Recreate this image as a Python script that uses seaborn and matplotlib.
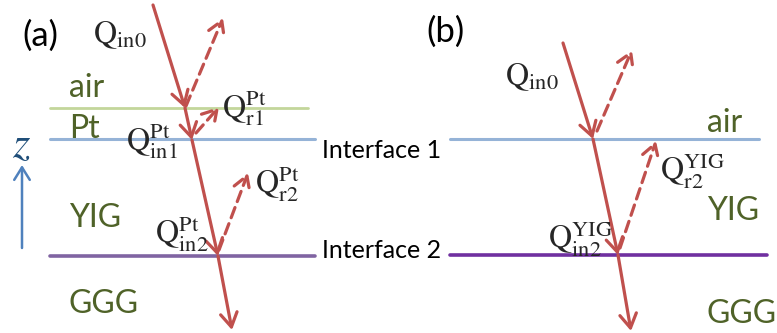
import matplotlib
matplotlib.use("Agg")
import matplotlib.pyplot as plt
import seaborn as sns
import pandas as pd

sns.set_theme(style="white")
plt.rcParams["font.family"] = ["Lato", "DejaVu Sans"]
plt.rcParams["mathtext.fontset"] = "stix"

# Layer stacks of the two samples (top to bottom)
layers_a = ["air", "Pt", "YIG", "GGG"]
layers_b = ["air", "YIG", "GGG"]
interface_names = ["Interface 1", "Interface 2"]
panel_tags = ["(a)", "(b)"]

# Heat-flux labels
flux_a = [r"$\mathrm{Q}_{\mathrm{in0}}$",
          r"$\mathrm{Q}_{\mathrm{in1}}^{\mathrm{Pt}}$",
          r"$\mathrm{Q}_{\mathrm{r1}}^{\mathrm{Pt}}$",
          r"$\mathrm{Q}_{\mathrm{r2}}^{\mathrm{Pt}}$",
          r"$\mathrm{Q}_{\mathrm{in2}}^{\mathrm{Pt}}$"]
flux_b = [r"$\mathrm{Q}_{\mathrm{in0}}$",
          r"$\mathrm{Q}_{\mathrm{r2}}^{\mathrm{YIG}}$",
          r"$\mathrm{Q}_{\mathrm{in2}}^{\mathrm{YIG}}$"]

RED = "#c0504d"
TXT_GREEN = "#4f6228"

fig = plt.figure(figsize=(7.77, 3.33), dpi=100)
ax = fig.add_axes([0, 0, 1, 1])
ax.set_xlim(0, 777)
ax.set_ylim(333, 0)
ax.axis("off")

# Boundary lines between layers
bounds = pd.DataFrame({
    "x": [50, 308, 50, 315, 50, 315, 450, 759, 450, 767],
    "y": [108, 108, 139, 139, 256, 256, 139, 139, 255, 255],
    "line": ["a0", "a0", "a1", "a1", "a2", "a2", "b1", "b1", "b2", "b2"],
})
palette = {"a0": "#c3d69b", "a1": "#95b3d7", "a2": "#8064a2",
           "b1": "#95b3d7", "b2": "#7030a0"}
widths = {"a0": 2.0, "a1": 2.2, "a2": 2.6, "b1": 2.2, "b2": 2.6}
for key, grp in bounds.groupby("line"):
    sns.lineplot(data=grp, x="x", y="y", color=palette[key], lw=widths[key],
                 ax=ax, legend=False, sort=False)


def ray(tail, tip, dashed=False):
    ax.annotate("", xy=tip, xytext=tail,
                arrowprops=dict(arrowstyle="->,head_length=0.5,head_width=0.3",
                                color=RED, lw=2.3, shrinkA=0, shrinkB=0,
                                linestyle=(0, (3.4, 2.0)) if dashed else "-",
                                mutation_scale=20))


# Panel (a): transmitted and reflected rays
ray((153, 5), (185, 108))
ray((185, 108), (192, 140))
ray((192, 140), (218, 256))
ray((218, 256), (232, 330))
ray((186, 106), (223, 18), dashed=True)
ray((196, 133), (219, 107), dashed=True)
ray((219, 250), (248, 173), dashed=True)

# Panel (b)
ray((563, 43), (593, 139))
ray((593, 139), (618, 255))
ray((618, 255), (631, 331))
ray((597, 131), (632, 50), dashed=True)
ray((620, 248), (656, 141), dashed=True)

# z axis
ax.annotate("", xy=(22, 165), xytext=(22, 248),
            arrowprops=dict(arrowstyle="->,head_length=0.45,head_width=0.28",
                            color="#4f81bd", lw=1.8, shrinkA=0, shrinkB=0,
                            mutation_scale=20))
ax.text(21, 145, r"$z$", color="#1f4e79", fontsize=32, ha="center", va="center")

# Panel tags
ax.text(40, 36, panel_tags[0], fontsize=25, ha="center", va="center", color="black")
ax.text(445, 32, panel_tags[1], fontsize=25, ha="center", va="center", color="black")

# Layer names
lay_kw = dict(fontsize=23, color=TXT_GREEN, ha="left", va="baseline")
for name, yb in zip(layers_a, [97, 138, 227, 313]):
    ax.text(69, yb, name, **lay_kw)
for name, yb in zip(layers_b, [132, 220, 323]):
    ax.text(707, yb, name, **lay_kw)

# Interface names
for name, yb in zip(interface_names, [158, 258]):
    ax.text(322, yb, name, fontsize=18, color="black", ha="left", va="baseline")

# Flux labels
q_kw = dict(fontsize=23, color="#262626", ha="left", va="baseline")
for lab, (x, yb) in zip(flux_a, [(93, 43), (126, 151), (222, 118), (255, 193), (155, 243)]):
    ax.text(x, yb, lab, **q_kw)
for lab, (x, yb) in zip(flux_b, [(505, 85), (660, 180), (548, 248)]):
    ax.text(x, yb, lab, **q_kw)

fig.savefig("out.png", dpi=100)
